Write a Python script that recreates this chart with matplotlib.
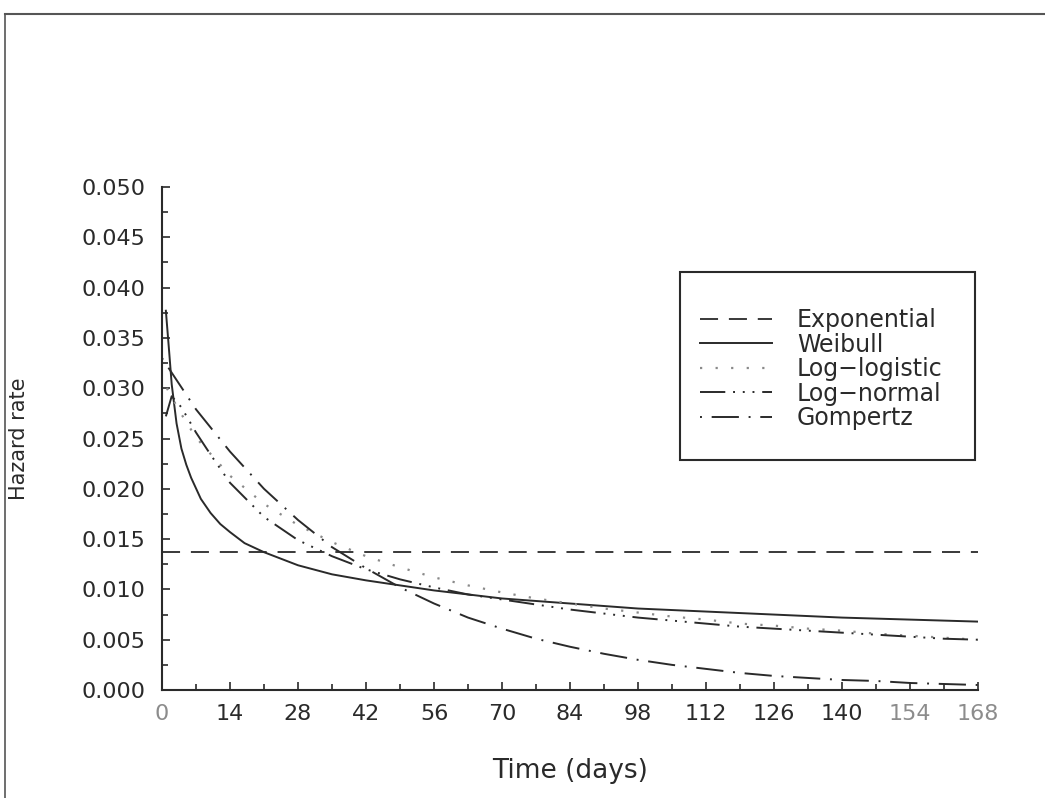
import matplotlib
matplotlib.use("Agg")
import matplotlib.pyplot as plt
from matplotlib.lines import Line2D
from matplotlib.patches import Rectangle
from matplotlib.ticker import MultipleLocator, FormatStrFormatter

# Fitted hazard curves (days -> hazard rate)
t_grid = [0, 7, 14, 21, 28, 35, 42, 49, 56, 63, 70, 77, 84, 91, 98, 105,
          112, 119, 126, 133, 140, 147, 154, 161, 168]

exp_t = [0, 168]
exp_h = [0.0137, 0.0137]

weib_t = [0.8, 1.5, 2, 3, 4, 5, 6, 8, 10, 12, 14, 17, 21, 28, 35, 42, 56, 70,
          84, 98, 112, 126, 140, 154, 168]
weib_h = [0.0377, 0.0335, 0.0304, 0.0265, 0.0240, 0.0224, 0.0211, 0.0190,
          0.0176, 0.0165, 0.0157, 0.0146, 0.0137, 0.0124, 0.0115, 0.0109,
          0.0099, 0.0091, 0.0086, 0.0081, 0.0078, 0.0075, 0.0072, 0.0070,
          0.0068]

loglog_t = [1, 3.5] + t_grid[1:]
loglog_h = [0.0300, 0.0278, 0.0251, 0.0213, 0.0185, 0.0164, 0.0147, 0.0133,
            0.0122, 0.0112, 0.0104, 0.0097, 0.0091, 0.0086, 0.0081, 0.0077,
            0.0073, 0.0070, 0.0066, 0.0064, 0.0061, 0.0059, 0.0056, 0.0054,
            0.0052, 0.0050]

lognorm_t = [0.8, 2, 4, 7, 10, 14, 21, 28, 35, 42, 49, 56, 63, 70, 77, 84,
             91, 98, 105, 112, 119, 126, 133, 140, 147, 154, 161, 168]
lognorm_h = [0.0272, 0.0292, 0.0281, 0.0256, 0.0234, 0.0206, 0.0172, 0.0149,
             0.0133, 0.0120, 0.0110, 0.0102, 0.0095, 0.0090, 0.0085, 0.0080,
             0.0076, 0.0072, 0.0069, 0.0066, 0.0063, 0.0061, 0.0059, 0.0057,
             0.0055, 0.0053, 0.0051, 0.0050]

gomp_t = t_grid
gomp_h = [0.0330, 0.0279, 0.0237, 0.0200, 0.0169, 0.0142, 0.0121, 0.0102,
          0.0086, 0.0072, 0.0061, 0.0051, 0.0043, 0.0036, 0.0030, 0.0025,
          0.0021, 0.0017, 0.0014, 0.0012, 0.0010, 0.0009, 0.0007, 0.0006,
          0.0005]

labels = ['Exponential', 'Weibull', 'Log\u2212logistic', 'Log\u2212normal', 'Gompertz']

ink = '#2a2a2a'

fig = plt.figure(figsize=(10.45, 7.98), dpi=100)
ax = fig.add_axes([0.155, 0.1353, 0.781, 0.6304])

ax.plot(exp_t, exp_h, color=ink, lw=1.3, ls=(0, (10, 6)), label=labels[0])
ax.plot(weib_t, weib_h, color=ink, lw=1.4, ls='-', label=labels[1])
ax.plot(loglog_t, loglog_h, color='#8a8a8a', lw=1.6, ls=(0, (1, 6)), label=labels[2])
ax.plot(lognorm_t, lognorm_h, color=ink, lw=1.4,
        ls=(0, (13, 4, 1, 4, 1, 4, 1, 4)), label=labels[3])
ax.plot(gomp_t, gomp_h, color=ink, lw=1.4, ls=(0, (1, 5, 14, 5)), label=labels[4])

ax.set_xlim(0, 168)
ax.set_ylim(0, 0.050)
ax.xaxis.set_major_locator(MultipleLocator(14))
ax.xaxis.set_minor_locator(MultipleLocator(7))
ax.yaxis.set_major_locator(MultipleLocator(0.005))
ax.yaxis.set_minor_locator(MultipleLocator(0.0025))
ax.yaxis.set_major_formatter(FormatStrFormatter('%.3f'))

for side in ('top', 'right'):
    ax.spines[side].set_visible(False)
for side in ('left', 'bottom'):
    ax.spines[side].set_linewidth(1.5)
    ax.spines[side].set_color(ink)

ax.tick_params(which='both', direction='in', color=ink, width=1.2)
ax.tick_params(which='major', length=6, labelsize=16, labelcolor=ink)
ax.tick_params(which='minor', length=4)
ax.tick_params(axis='y', pad=12)
ax.tick_params(axis='x', pad=10)

# faded labels at the ends of the time axis
for lab in ax.get_xticklabels():
    if lab.get_text() in ('0', '154', '168'):
        lab.set_color('#8c8c8c')

ax.set_xlabel('Time (days)', fontsize=19, color=ink)
ax.xaxis.set_label_coords(0.5, -0.135)
ax.set_ylabel('Hazard rate', fontsize=15, color=ink)
ax.yaxis.set_label_coords(-0.163, 0.5)

# legend box drawn separately so its padding can be set freely
ax.add_patch(Rectangle((0.635, 0.457), 0.361, 0.374, transform=ax.transAxes,
                       fill=False, edgecolor=ink, lw=1.5, clip_on=False, zorder=5))
leg = ax.legend(loc='upper left', bbox_to_anchor=(0.659, 0.759), fontsize=17,
                frameon=False, borderpad=0, labelspacing=0.02,
                handlelength=3.05, handletextpad=1.06, borderaxespad=0)
for txt in leg.get_texts():
    txt.set_color(ink)

# page border along the top and left edges
fig.add_artist(Line2D([0.005, 1.0], [0.983, 0.983], transform=fig.transFigure,
                      color='#555555', lw=1.5))
fig.add_artist(Line2D([0.005, 0.005], [0.983, 0.0], transform=fig.transFigure,
                      color='#555555', lw=1.2))

fig.savefig('out.png', dpi=100)
